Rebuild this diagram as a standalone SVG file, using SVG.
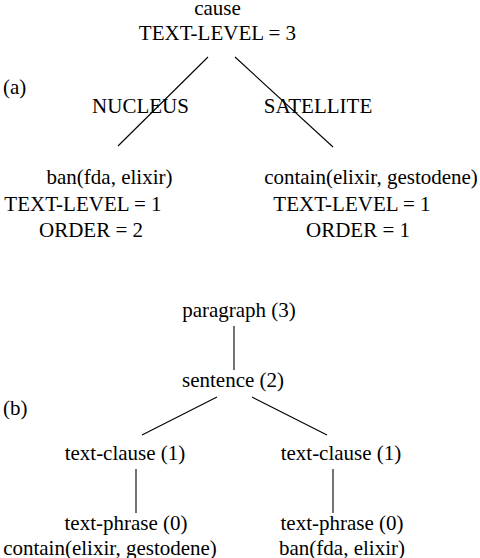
<svg xmlns="http://www.w3.org/2000/svg" width="480" height="558" viewBox="0 0 480 558">
<style>
text{font-family:"Liberation Serif","Times New Roman",serif;font-size:21px;fill:#000;text-anchor:middle}
.l{text-anchor:start}
line{stroke:#000;stroke-width:1.1}
</style>
<rect width="480" height="558" fill="#fff"/>
<g id="connectors">
<line x1="208" y1="57" x2="118" y2="146"/>
<line x1="235" y1="57" x2="333" y2="147"/>
<line x1="234" y1="326" x2="234" y2="370"/>
<line x1="217" y1="397" x2="142" y2="435"/>
<line x1="252" y1="397" x2="327" y2="435"/>
<line x1="136" y1="469" x2="136" y2="513"/>
<line x1="333" y1="469" x2="333" y2="513"/>
</g>
<g id="cause"><text x="217.5" y="15">cause</text><text x="217.5" y="40">TEXT-LEVEL = 3</text></g>
<g id="label-a"><text class="l" x="3" y="94">(a)</text></g>
<g id="nucleus"><text x="140.5" y="113">NUCLEUS</text></g>
<g id="satellite"><text x="318" y="113">SATELLITE</text></g>
<g id="ban-a"><text x="109.5" y="184">ban(fda, elixir)</text><text x="83" y="211">TEXT-LEVEL = 1</text><text x="91" y="237">ORDER = 2</text></g>
<g id="contain-a"><text x="371" y="184">contain(elixir, gestodene)</text><text x="352" y="211">TEXT-LEVEL = 1</text><text x="358" y="237">ORDER = 1</text></g>
<g id="paragraph"><text x="239" y="317">paragraph (3)</text></g>
<g id="sentence"><text x="233" y="387">sentence (2)</text></g>
<g id="label-b"><text class="l" x="3" y="415">(b)</text></g>
<g id="clause-left"><text x="125" y="460">text-clause (1)</text></g>
<g id="clause-right"><text x="341" y="460">text-clause (1)</text></g>
<g id="phrase-left"><text x="126" y="530">text-phrase (0)</text><text x="110" y="555">contain(elixir, gestodene)</text></g>
<g id="phrase-right"><text x="342" y="530">text-phrase (0)</text><text x="342" y="555">ban(fda, elixir)</text></g>
</svg>
